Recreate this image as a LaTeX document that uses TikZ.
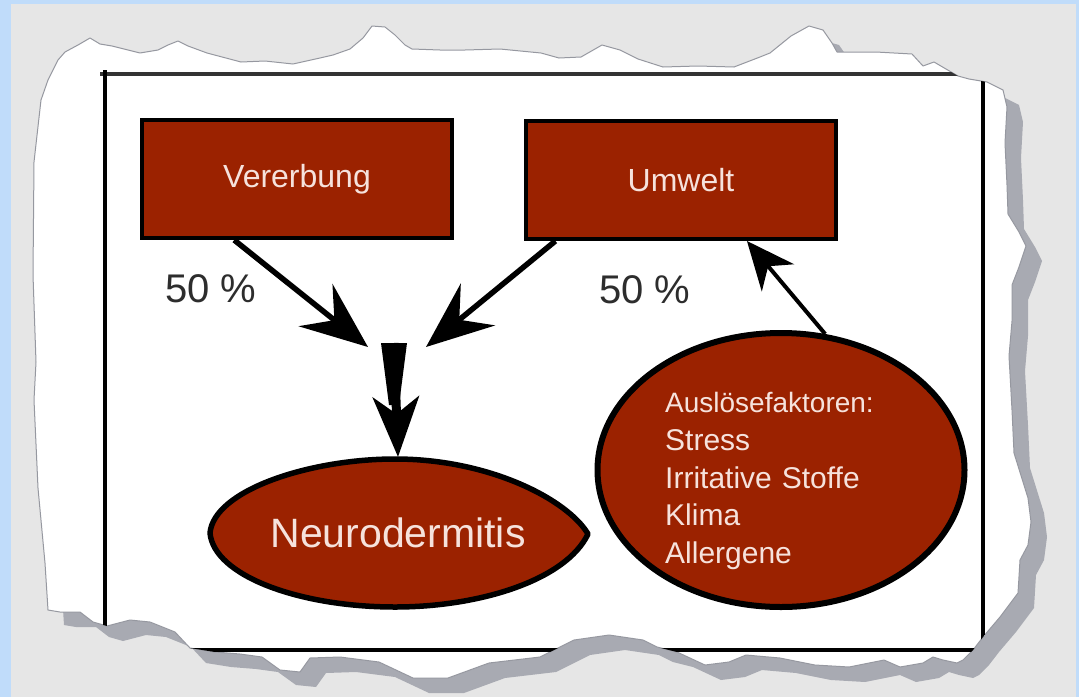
\documentclass[tikz,border=0pt]{standalone}
\usepackage{fontspec}
\setmainfont{Liberation Sans}
\usetikzlibrary{arrows.meta,shapes.geometric,calc}
\definecolor{bgblue}{RGB}{192,220,250}
\definecolor{bggray}{RGB}{230,230,230}
\definecolor{shadowgray}{RGB}{168,170,178}
\definecolor{edgegray}{RGB}{150,152,160}
\definecolor{boxred}{RGB}{155,34,0}
\definecolor{pinkwhite}{RGB}{246,226,220}
\definecolor{pctgray}{RGB}{45,45,45}
\def\paperpath{(65,52) -- (78,45) -- (90,38) -- (100,44) -- (112,46) -- (140,53) -- (158,50) -- (168,45) -- (178,41) -- (188,46) -- (207,53) -- (241,62) -- (265,61) -- (293,64) -- (320,58) -- (333,55) -- (350,49) -- (363,38) -- (372,26) -- (385,27) -- (395,35) -- (405,45) -- (412,49) -- (440,50) -- (465,50) -- (500,49) -- (541,53) -- (559,58) -- (581,57) -- (602,45) -- (620,50) -- (638,59) -- (663,67) -- (698,66) -- (734,67) -- (760,57) -- (770,53) -- (791,36) -- (809,26) -- (823,30) -- (832,43) -- (837,52) -- (876,52) -- (912,54) -- (923,66) -- (934,62) -- (958,76) -- (969,79) -- (987,82) -- (1003,90) -- (1007,107) -- (1005,143) -- (1007,185) -- (1008,214) -- (1019,232) -- (1026,246) -- (1019,267) -- (1012,285) -- (1012,321) -- (1009,356) -- (1012,410) -- (1014,453) -- (1028,498) -- (1031,522) -- (1028,545) -- (1020,560) -- (1018,593) -- (1000,617) -- (983,637) -- (973,650) -- (963,660) -- (957,663) -- (943,660) -- (933,657) -- (923,663) -- (900,667) -- (884,660) -- (849,667) -- (815,665) -- (780,658) -- (746,655) -- (729,662) -- (705,665) -- (677,652) -- (657,647) -- (643,640) -- (609,635) -- (574,640) -- (540,657) -- (489,663) -- (448,678) -- (413,678) -- (379,662) -- (340,657) -- (310,658) -- (300,672) -- (280,670) -- (262,657) -- (240,654) -- (215,652) -- (190,648) -- (175,632) -- (150,622) -- (130,620) -- (107,626) -- (93,622) -- (80,612) -- (60,612) -- (48,610) -- (45,563) -- (38,488) -- (34,400) -- (36,362) -- (33,275) -- (34,162) -- (41,100) -- (48,80) -- (58,60) -- cycle}
\begin{document}
\begin{tikzpicture}[x=1pt,y=-1pt,
  redbox/.style={rectangle, fill=boxred, draw=black, line width=4pt, minimum width=310pt, minimum height=118pt, inner sep=0pt, text=pinkwhite, font=\fontsize{32}{38}\selectfont},
  bigarrow/.style={draw=black, line width=5.5pt, -{Stealth[length=67pt,width=54pt,inset=24pt]}},
  downarrow/.style={draw=black, line width=9pt, -{Stealth[length=60pt,width=46pt,inset=17pt]}},
  uparrow/.style={draw=black, line width=4pt, -{Stealth[length=48pt,width=42pt,inset=15pt]}},
  pct/.style={text=pctgray, font=\fontsize{40}{46}\selectfont, inner sep=0pt, anchor=base west},
  lemon/.style={fill=boxred, draw=black, line width=5.5pt, line join=round},
  factors/.style={text=pinkwhite, font=\fontsize{30}{37.75}\selectfont, text width=230pt, align=left, inner sep=0pt, anchor=west}
]
\useasboundingbox (0,0) rectangle (1079,697);
\fill[bgblue] (0,0) rectangle (1079,697);
\fill[bggray] (11,4) rectangle (1076,697);
% torn paper with shadow
\fill[shadowgray, shift={(16,15)}] \paperpath;
\fill[white] \paperpath;
\draw[edgegray, line width=1pt, line join=round] \paperpath;
% inner frame, clipped by the torn edge
\begin{scope}
  \clip \paperpath;
  \draw[black!80, line width=3.5pt] (100,74) -- (990,74);
  \draw[black, line width=4.5pt] (105,70) -- (105,660);
  \draw[black, line width=4pt] (983,70) -- (983,660);
  \draw[black, line width=3.5pt] (100,650) -- (990,650);
\end{scope}
% boxes
\node[redbox] (verer) at (297,179) {Vererbung};
\node[redbox] (umwelt) at (681,180) {Umwelt};
% labels
\node[pct] (pctL) at (165,302) {50 \%};
\node[pct] (pctR) at (599,303) {50 \%};
% Neurodermitis lemon
\coordinate (nc) at (398,533);
\draw[lemon] (210,533) .. controls (214,490) and (310,459) .. (395,459)
  .. controls (490,459) and (568,500) .. (588,534)
  .. controls (566,580) and (480,607) .. (395,607)
  .. controls (300,607) and (214,576) .. (210,533) -- cycle;
\node[ellipse, minimum width=380pt, minimum height=148pt, inner sep=0pt, outer sep=0pt, text=pinkwhite, font=\fontsize{41}{48}\selectfont] (neuro) at (nc) {Neurodermitis};
% Auslösefaktoren
\node[ellipse, fill=boxred, draw=black, line width=6pt, minimum width=367pt, minimum height=274pt] (ausl) at (781,470) {};
\node[factors] (ausltext) at (665,481) {{\fontsize{28}{37.75}\selectfont Auslösefaktoren:}\\Stress\\Irritative Stoffe\\Klima\\Allergene};
% arrows
\coordinate (mL) at (368,347);
\coordinate (mR) at (426,347);
\coordinate (mC) at (394,343);
\draw[bigarrow] ($(verer.south west)!0.3!(verer.south east)$) -- (mL);
\draw[bigarrow] ($(umwelt.south west)!0.1!(umwelt.south east)$) -- (mR);
\fill[black] ($(mC)+(-13,0)$) -- ($(mC)+(13,0)$) -- ($(mC)+(5,62)$) -- ($(mC)+(-5,62)$) -- cycle;
\draw[downarrow] (mC) -- ($(neuro.north)+(0,-2)$);
\draw[uparrow] (ausl.72) -- ($(umwelt.south west)!0.71!(umwelt.south east)$);
\end{tikzpicture}
\end{document}
